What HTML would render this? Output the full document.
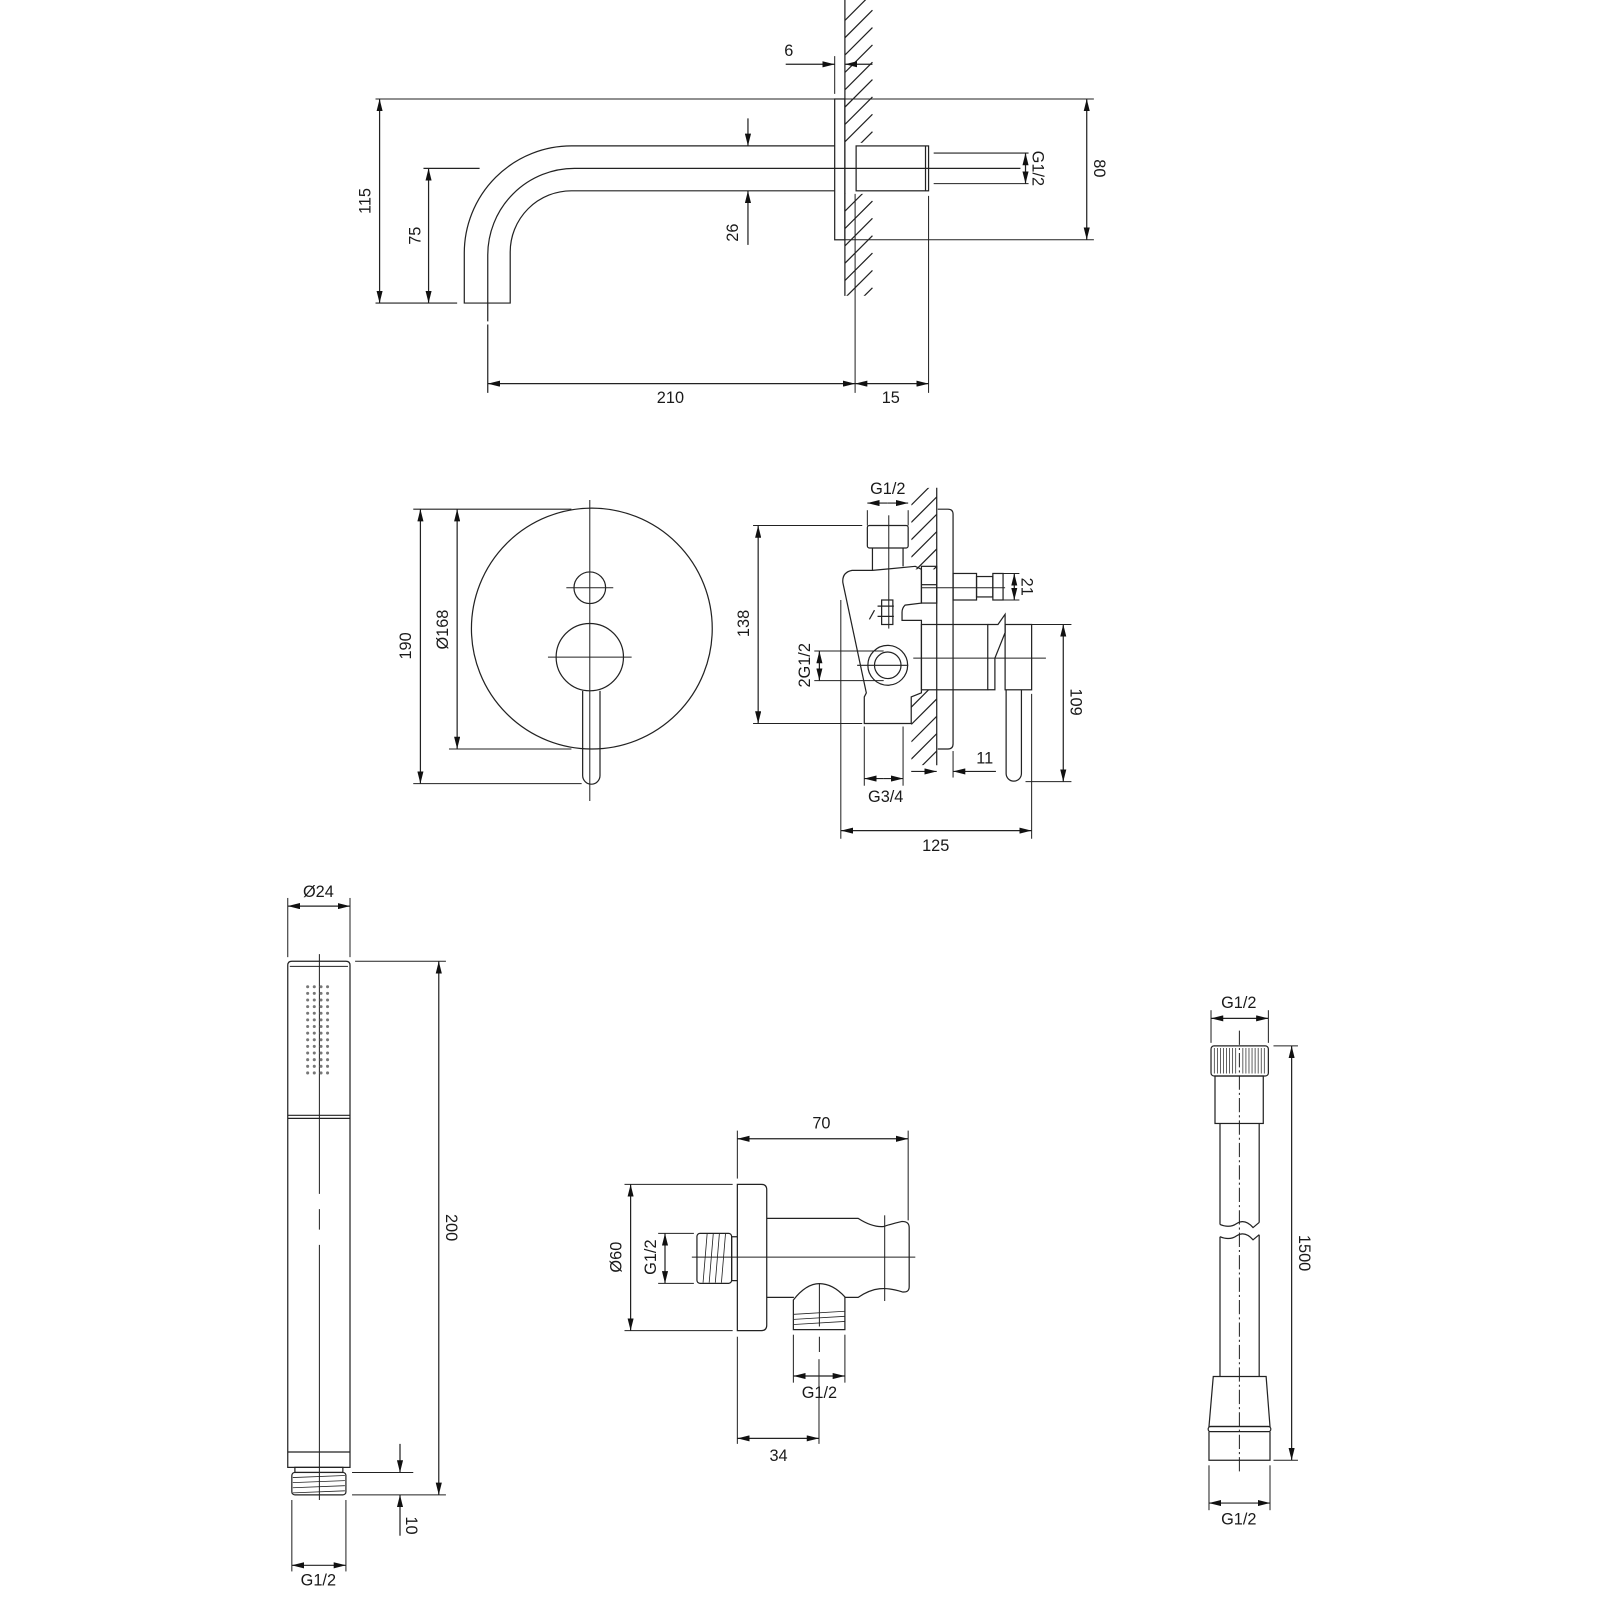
<!DOCTYPE html>
<html><head><meta charset="utf-8"><style>
html,body{margin:0;padding:0;background:#fff;}
svg{display:block;}
text{font-family:"Liberation Sans",sans-serif;font-size:16px;fill:#1a1a1a;}
</style></head><body>
<svg width="1600" height="1600" viewBox="0 0 1568 1568" xmlns="http://www.w3.org/2000/svg">
<defs>
<marker id="a" viewBox="0 0 12 6" refX="12" refY="3" markerWidth="12" markerHeight="6" markerUnits="userSpaceOnUse" orient="auto-start-reverse"><path d="M0,0L12,3L0,6z" fill="#111"/></marker>
<clipPath id="w1"><rect x="828" y="0" width="28" height="140"/><rect x="828" y="190" width="28" height="100"/></clipPath>
<clipPath id="w2"><rect x="893" y="478" width="25" height="80"/><rect x="893" y="676" width="25" height="74"/></clipPath>
</defs>
<g fill="none" stroke="#222" stroke-width="1.2">

<!-- ===== SPOUT ===== -->
<line x1="828" y1="0" x2="828" y2="290"/>
<g clip-path="url(#w1)">
<path d="M828,20L855,-7M828,37L855,10M828,54L855,27M828,71L855,44M828,88L855,61M828,105L855,78M828,122L855,95M828,139L855,112M828,156L855,129M828,173L855,146M828,190L855,163M828,207L855,180M828,224L855,197M828,241L855,214M828,258L855,231M828,275L855,248M828,292L855,265M828,309L855,282"/>
</g>
<rect x="818" y="97" width="10" height="138"/>
<rect x="839" y="143" width="71" height="44"/>
<line x1="907" y1="143" x2="907" y2="187"/>
<path d="M818,143L560,143A105,105 0 0 0 455,248L455,297L500,297L500,247A60,60 0 0 1 560,187L818,187"/>
<path d="M478,315L478,250A85,85 0 0 1 563,165L1000,165"/>
<line x1="415" y1="165" x2="470" y2="165"/>
<line x1="478" y1="318" x2="478" y2="385"/>
<line x1="368" y1="97" x2="1072" y2="97" stroke-width="1"/>
<line x1="368" y1="297" x2="448" y2="297" stroke-width="1"/>
<line x1="372" y1="97" x2="372" y2="297" marker-start="url(#a)" marker-end="url(#a)"/>
<line x1="420" y1="165" x2="420" y2="297" marker-start="url(#a)" marker-end="url(#a)"/>
<line x1="828" y1="235" x2="1072" y2="235" stroke-width="1"/>
<line x1="1065" y1="97" x2="1065" y2="235" marker-start="url(#a)" marker-end="url(#a)"/>
<line x1="733" y1="116" x2="733" y2="143" marker-end="url(#a)"/>
<line x1="733" y1="240" x2="733" y2="187" marker-end="url(#a)"/>
<line x1="915" y1="150" x2="1008" y2="150" stroke-width="1"/>
<line x1="915" y1="180" x2="1008" y2="180" stroke-width="1"/>
<line x1="1005" y1="150" x2="1005" y2="180" marker-start="url(#a)" marker-end="url(#a)"/>
<line x1="818" y1="55" x2="818" y2="92" stroke-width="1"/>
<line x1="770" y1="63" x2="818" y2="63" marker-end="url(#a)"/>
<line x1="855" y1="63" x2="828" y2="63" marker-end="url(#a)"/>
<line x1="838" y1="190" x2="838" y2="385" stroke-width="1"/>
<line x1="910" y1="192" x2="910" y2="385" stroke-width="1"/>
<line x1="478" y1="376" x2="838" y2="376" marker-start="url(#a)" marker-end="url(#a)"/>
<line x1="838" y1="376" x2="910" y2="376" marker-start="url(#a)" marker-end="url(#a)"/>

<!-- ===== MIXER FRONT ===== -->
<circle cx="580" cy="616" r="118"/>
<circle cx="578" cy="576" r="15.5"/>
<circle cx="578" cy="644" r="33"/>
<path d="M571,677L571,760A8.5,8.5 0 0 0 588,760L588,677"/>
<line x1="578" y1="490" x2="578" y2="785" stroke-width="1"/>
<line x1="555" y1="576" x2="601" y2="576" stroke-width="1"/>
<line x1="537" y1="644" x2="619" y2="644" stroke-width="1"/>
<line x1="405" y1="499" x2="560" y2="499" stroke-width="1"/>
<line x1="440" y1="734" x2="560" y2="734" stroke-width="1"/>
<line x1="405" y1="768" x2="570" y2="768" stroke-width="1"/>
<line x1="412" y1="499" x2="412" y2="768" marker-start="url(#a)" marker-end="url(#a)"/>
<line x1="448" y1="499" x2="448" y2="734" marker-start="url(#a)" marker-end="url(#a)"/>

<!-- ===== MIXER SIDE ===== -->
<line x1="918" y1="478" x2="918" y2="750"/>
<g clip-path="url(#w2)">
<path d="M893,495L918,470M893,512L918,487M893,529L918,504M893,546L918,521M893,563L918,538M893,580L918,555M893,693L918,668M893,710L918,685M893,727L918,702M893,744L918,719M893,761L918,736M893,778L918,753"/>
</g>
<path d="M919,499L929,499Q934,499 934,504L934,729Q934,734 929,734L919,734"/>
<rect x="850" y="515" width="40" height="22" rx="2"/>
<path d="M855,537L855,559M885,537L885,555"/>
<path d="M855,559L897,555L903,558L903,591L887,593Q884,596 884,600L884,608L903,608L903,679L893,683L893,709L847,709L847,683L849,679L826,571Q825,561 835,559Z"/>
<rect x="903" y="555" width="15" height="36"/>
<line x1="903" y1="573" x2="918" y2="573"/>
<rect x="934" y="562" width="23" height="26"/>
<rect x="957" y="565" width="16" height="20"/>
<rect x="973" y="562" width="10" height="26"/>
<line x1="903" y1="576" x2="985" y2="576" stroke-width="1"/>
<circle cx="870" cy="652" r="19.5"/>
<circle cx="870" cy="652" r="13"/>
<rect x="903" y="612" width="65" height="64"/>
<path d="M968,612L978,612L985,602L985,620L975,645L975,676L968,676"/>
<rect x="985" y="612" width="26" height="64"/>
<path d="M986,676L986,758A7.5,7.5 0 0 0 1001,758L1001,676"/>
<line x1="895" y1="645" x2="1025" y2="645" stroke-width="1"/>
<line x1="871" y1="505" x2="871" y2="616" stroke-width="1"/>
<line x1="840" y1="652" x2="890" y2="652" stroke-width="1"/>
<rect x="864" y="588" width="11" height="24"/>
<path d="M860,594L876,594M860,604L876,604M857,598L852,607"/>
<line x1="850" y1="500" x2="850" y2="515" stroke-width="1"/>
<line x1="890" y1="500" x2="890" y2="515" stroke-width="1"/>
<line x1="850" y1="493" x2="870" y2="493" marker-start="url(#a)"/>
<line x1="870" y1="493" x2="890" y2="493" marker-end="url(#a)"/>
<line x1="738" y1="515" x2="845" y2="515" stroke-width="1"/>
<line x1="738" y1="709" x2="845" y2="709" stroke-width="1"/>
<line x1="743" y1="515" x2="743" y2="709" marker-start="url(#a)" marker-end="url(#a)"/>
<line x1="798" y1="638" x2="866" y2="638" stroke-width="1"/>
<line x1="798" y1="667" x2="866" y2="667" stroke-width="1"/>
<line x1="803" y1="638" x2="803" y2="667" marker-start="url(#a)" marker-end="url(#a)"/>
<line x1="975" y1="562" x2="999" y2="562" stroke-width="1"/>
<line x1="975" y1="588" x2="999" y2="588" stroke-width="1"/>
<line x1="994" y1="562" x2="994" y2="588" marker-start="url(#a)" marker-end="url(#a)"/>
<line x1="1011" y1="612" x2="1050" y2="612" stroke-width="1"/>
<line x1="1005" y1="766" x2="1050" y2="766" stroke-width="1"/>
<line x1="1042" y1="612" x2="1042" y2="766" marker-start="url(#a)" marker-end="url(#a)"/>
<line x1="934" y1="736" x2="934" y2="762" stroke-width="1"/>
<line x1="893" y1="756" x2="918" y2="756" marker-end="url(#a)"/>
<line x1="976" y1="756" x2="934" y2="756" marker-end="url(#a)"/>
<line x1="847" y1="712" x2="847" y2="770" stroke-width="1"/>
<line x1="885" y1="712" x2="885" y2="770" stroke-width="1"/>
<line x1="847" y1="763" x2="866" y2="763" marker-start="url(#a)"/>
<line x1="866" y1="763" x2="885" y2="763" marker-end="url(#a)"/>
<line x1="824" y1="588" x2="824" y2="822" stroke-width="1"/>
<line x1="1011" y1="680" x2="1011" y2="822" stroke-width="1"/>
<line x1="824" y1="814" x2="1011" y2="814" marker-start="url(#a)" marker-end="url(#a)"/>

<!-- ===== HAND SHOWER ===== -->
<path d="M282,1438L282,946Q282,942 286,942L339,942Q343,942 343,946L343,1438Z"/>
<line x1="284" y1="947" x2="341" y2="947" stroke-width="1"/>
<line x1="282" y1="1093" x2="343" y2="1093"/>
<line x1="282" y1="1096" x2="343" y2="1096"/>
<line x1="282" y1="1423" x2="343" y2="1423"/>
<rect x="289" y="1438" width="47" height="5"/>
<rect x="286" y="1443" width="53" height="22" rx="3"/>
<path d="M287,1448L338,1446M287,1453L338,1451M287,1458L338,1456M287,1463L338,1461" stroke-width="0.8"/>
<path d="M313,935L313,1170M313,1185L313,1205M313,1220L313,1470" stroke-width="1"/>
<g fill="#777" stroke="none">
<circle cx="301.5" cy="967" r="1.5"/><circle cx="308" cy="967" r="1.5"/><circle cx="314.6" cy="967" r="1.5"/><circle cx="321" cy="967" r="1.5"/>
<circle cx="301.5" cy="973.5" r="1.5"/><circle cx="308" cy="973.5" r="1.5"/><circle cx="314.6" cy="973.5" r="1.5"/><circle cx="321" cy="973.5" r="1.5"/>
<circle cx="301.5" cy="980" r="1.5"/><circle cx="308" cy="980" r="1.5"/><circle cx="314.6" cy="980" r="1.5"/><circle cx="321" cy="980" r="1.5"/>
<circle cx="301.5" cy="986.5" r="1.5"/><circle cx="308" cy="986.5" r="1.5"/><circle cx="314.6" cy="986.5" r="1.5"/><circle cx="321" cy="986.5" r="1.5"/>
<circle cx="301.5" cy="993" r="1.5"/><circle cx="308" cy="993" r="1.5"/><circle cx="314.6" cy="993" r="1.5"/><circle cx="321" cy="993" r="1.5"/>
<circle cx="301.5" cy="999.5" r="1.5"/><circle cx="308" cy="999.5" r="1.5"/><circle cx="314.6" cy="999.5" r="1.5"/><circle cx="321" cy="999.5" r="1.5"/>
<circle cx="301.5" cy="1006" r="1.5"/><circle cx="308" cy="1006" r="1.5"/><circle cx="314.6" cy="1006" r="1.5"/><circle cx="321" cy="1006" r="1.5"/>
<circle cx="301.5" cy="1012.5" r="1.5"/><circle cx="308" cy="1012.5" r="1.5"/><circle cx="314.6" cy="1012.5" r="1.5"/><circle cx="321" cy="1012.5" r="1.5"/>
<circle cx="301.5" cy="1019" r="1.5"/><circle cx="308" cy="1019" r="1.5"/><circle cx="314.6" cy="1019" r="1.5"/><circle cx="321" cy="1019" r="1.5"/>
<circle cx="301.5" cy="1025.5" r="1.5"/><circle cx="308" cy="1025.5" r="1.5"/><circle cx="314.6" cy="1025.5" r="1.5"/><circle cx="321" cy="1025.5" r="1.5"/>
<circle cx="301.5" cy="1032" r="1.5"/><circle cx="308" cy="1032" r="1.5"/><circle cx="314.6" cy="1032" r="1.5"/><circle cx="321" cy="1032" r="1.5"/>
<circle cx="301.5" cy="1038.5" r="1.5"/><circle cx="308" cy="1038.5" r="1.5"/><circle cx="314.6" cy="1038.5" r="1.5"/><circle cx="321" cy="1038.5" r="1.5"/>
<circle cx="301.5" cy="1045" r="1.5"/><circle cx="308" cy="1045" r="1.5"/><circle cx="314.6" cy="1045" r="1.5"/><circle cx="321" cy="1045" r="1.5"/>
<circle cx="301.5" cy="1051.5" r="1.5"/><circle cx="308" cy="1051.5" r="1.5"/><circle cx="314.6" cy="1051.5" r="1.5"/><circle cx="321" cy="1051.5" r="1.5"/>
</g>
<line x1="282" y1="880" x2="282" y2="938" stroke-width="1"/>
<line x1="343" y1="880" x2="343" y2="938" stroke-width="1"/>
<line x1="282" y1="888" x2="343" y2="888" marker-start="url(#a)" marker-end="url(#a)"/>
<line x1="348" y1="942" x2="437" y2="942" stroke-width="1"/>
<line x1="345" y1="1465" x2="437" y2="1465" stroke-width="1"/>
<line x1="430" y1="942" x2="430" y2="1465" marker-start="url(#a)" marker-end="url(#a)"/>
<line x1="345" y1="1443" x2="405" y2="1443" stroke-width="1"/>
<line x1="392" y1="1415" x2="392" y2="1443" marker-end="url(#a)"/>
<line x1="392" y1="1505" x2="392" y2="1465" marker-end="url(#a)"/>
<line x1="286" y1="1470" x2="286" y2="1540" stroke-width="1"/>
<line x1="339" y1="1470" x2="339" y2="1540" stroke-width="1"/>
<line x1="286" y1="1534" x2="339" y2="1534" marker-start="url(#a)" marker-end="url(#a)"/>

<!-- ===== WALL ELBOW ===== -->
<path d="M722.6,1160.7L746,1160.7Q751.4,1160.7 751.4,1166L751.4,1298.6Q751.4,1304 746,1304L722.6,1304Z"/>
<path d="M722.6,1212L717,1212L717,1255L722.6,1255"/>
<rect x="683" y="1208.7" width="34" height="49" rx="3"/>
<path d="M689,1257L693,1209M695,1257L699,1209M701,1257L705,1209M707,1257L711,1209" stroke-width="0.8"/>
<path d="M751.4,1194L841,1194Q855,1203 866,1202Q875,1199 884,1197Q891,1197 891,1203L891,1261Q891,1267 884,1266Q872,1262 862,1263Q852,1264 841,1271.4L828,1271.4"/>
<path d="M751.4,1271.4L778,1271.4"/>
<path d="M777.5,1303L777.5,1274Q790,1258 803,1258Q816,1258 828,1271L828,1303Z"/>
<path d="M778,1288L828,1285M778,1293L828,1290M778,1298L828,1295" stroke-width="0.8"/>
<line x1="678" y1="1232" x2="897" y2="1232" stroke-width="1"/>
<line x1="867" y1="1191" x2="867" y2="1275" stroke-width="1"/>
<path d="M803,1258L803,1300M803,1310L803,1325" stroke-width="1"/>
<line x1="722.6" y1="1108" x2="722.6" y2="1155" stroke-width="1"/>
<line x1="890" y1="1108" x2="890" y2="1196" stroke-width="1"/>
<line x1="722.6" y1="1116" x2="890" y2="1116" marker-start="url(#a)" marker-end="url(#a)"/>
<line x1="612" y1="1160.7" x2="718" y2="1160.7" stroke-width="1"/>
<line x1="612" y1="1304" x2="718" y2="1304" stroke-width="1"/>
<line x1="618" y1="1160.7" x2="618" y2="1304" marker-start="url(#a)" marker-end="url(#a)"/>
<line x1="645" y1="1208.7" x2="680" y2="1208.7" stroke-width="1"/>
<line x1="645" y1="1257.7" x2="680" y2="1257.7" stroke-width="1"/>
<line x1="651.7" y1="1208.7" x2="651.7" y2="1257.7" marker-start="url(#a)" marker-end="url(#a)"/>
<line x1="777.5" y1="1308" x2="777.5" y2="1355" stroke-width="1"/>
<line x1="828" y1="1308" x2="828" y2="1355" stroke-width="1"/>
<line x1="777.5" y1="1348.5" x2="828" y2="1348.5" marker-start="url(#a)" marker-end="url(#a)"/>
<line x1="722.6" y1="1310" x2="722.6" y2="1415" stroke-width="1"/>
<line x1="802.6" y1="1332" x2="802.6" y2="1415" stroke-width="1"/>
<line x1="722.6" y1="1409.6" x2="802.6" y2="1409.6" marker-start="url(#a)" marker-end="url(#a)"/>

<!-- ===== HOSE ===== -->
<rect x="1186.8" y="1025" width="56.2" height="29.5" rx="3"/>
<path d="M1190,1027V1052M1193,1027V1052M1196,1027V1052M1199,1027V1052M1202,1027V1052M1205,1027V1052M1208,1027V1052M1211,1027V1052M1218,1027V1052M1221,1027V1052M1224,1027V1052M1227,1027V1052M1230,1027V1052M1233,1027V1052M1236,1027V1052M1239,1027V1052" stroke-width="0.7"/>
<rect x="1190.7" y="1054.5" width="47.3" height="46.5"/>
<path d="M1195.6,1101L1195.6,1200M1234,1101L1234,1198"/>
<path d="M1195.6,1200Q1205,1204 1212,1199Q1220,1194 1228,1203L1234,1198M1195.6,1212Q1205,1216 1212,1211Q1220,1206 1228,1215L1234,1210"/>
<path d="M1195.6,1212L1195.6,1349M1234,1210L1234,1349"/>
<path d="M1189,1349L1240.8,1349L1244.6,1398L1184.8,1398Z"/>
<rect x="1184" y="1398" width="61.4" height="5" rx="2.5"/>
<path d="M1184.8,1403L1184.8,1431L1244.6,1431L1244.6,1403"/>
<path d="M1214.6,1010L1214.6,1445" stroke-width="1" stroke-dasharray="14,3,2,3"/>
<line x1="1186.8" y1="990" x2="1186.8" y2="1022" stroke-width="1"/>
<line x1="1243" y1="990" x2="1243" y2="1022" stroke-width="1"/>
<line x1="1186.8" y1="998" x2="1243" y2="998" marker-start="url(#a)" marker-end="url(#a)"/>
<line x1="1248" y1="1025" x2="1272" y2="1025" stroke-width="1"/>
<line x1="1248" y1="1431" x2="1272" y2="1431" stroke-width="1"/>
<line x1="1265.8" y1="1025" x2="1265.8" y2="1431" marker-start="url(#a)" marker-end="url(#a)"/>
<line x1="1184.8" y1="1436" x2="1184.8" y2="1480" stroke-width="1"/>
<line x1="1244.6" y1="1436" x2="1244.6" y2="1480" stroke-width="1"/>
<line x1="1184.8" y1="1473" x2="1244.6" y2="1473" marker-start="url(#a)" marker-end="url(#a)"/>
</g>

<!-- ===== LABELS ===== -->
<g>
<text x="773" y="55" text-anchor="middle">6</text>
<text transform="translate(363,197) rotate(-90)" text-anchor="middle">115</text>
<text transform="translate(412,231) rotate(-90)" text-anchor="middle">75</text>
<text transform="translate(723,228) rotate(-90)" text-anchor="middle">26</text>
<text transform="translate(1012,165) rotate(90)" text-anchor="middle">G1/2</text>
<text transform="translate(1072,165) rotate(90)" text-anchor="middle">80</text>
<text x="657" y="395" text-anchor="middle">210</text>
<text x="873" y="395" text-anchor="middle">15</text>
<text transform="translate(403,633) rotate(-90)" text-anchor="middle">190</text>
<text transform="translate(439,617) rotate(-90)" text-anchor="middle">Ø168</text>
<text x="870" y="484" text-anchor="middle">G1/2</text>
<text transform="translate(734,611) rotate(-90)" text-anchor="middle">138</text>
<text transform="translate(794,652) rotate(-90)" text-anchor="middle">2G1/2</text>
<text transform="translate(1001,575) rotate(90)" text-anchor="middle">21</text>
<text transform="translate(1049,688) rotate(90)" text-anchor="middle">109</text>
<text x="965" y="748" text-anchor="middle">11</text>
<text x="868" y="786" text-anchor="middle">G3/4</text>
<text x="917" y="834" text-anchor="middle">125</text>
<text x="312" y="879" text-anchor="middle">Ø24</text>
<text transform="translate(437,1203) rotate(90)" text-anchor="middle">200</text>
<text transform="translate(398,1495) rotate(90)" text-anchor="middle">10</text>
<text x="312" y="1554" text-anchor="middle">G1/2</text>
<text x="805" y="1106" text-anchor="middle">70</text>
<text transform="translate(609,1232) rotate(-90)" text-anchor="middle">Ø60</text>
<text transform="translate(643,1232) rotate(-90)" text-anchor="middle">G1/2</text>
<text x="803" y="1370" text-anchor="middle">G1/2</text>
<text x="763" y="1432" text-anchor="middle">34</text>
<text x="1214" y="988" text-anchor="middle">G1/2</text>
<text transform="translate(1273,1228) rotate(90)" text-anchor="middle">1500</text>
<text x="1214" y="1494" text-anchor="middle">G1/2</text>
</g>
</svg>
</body></html>
